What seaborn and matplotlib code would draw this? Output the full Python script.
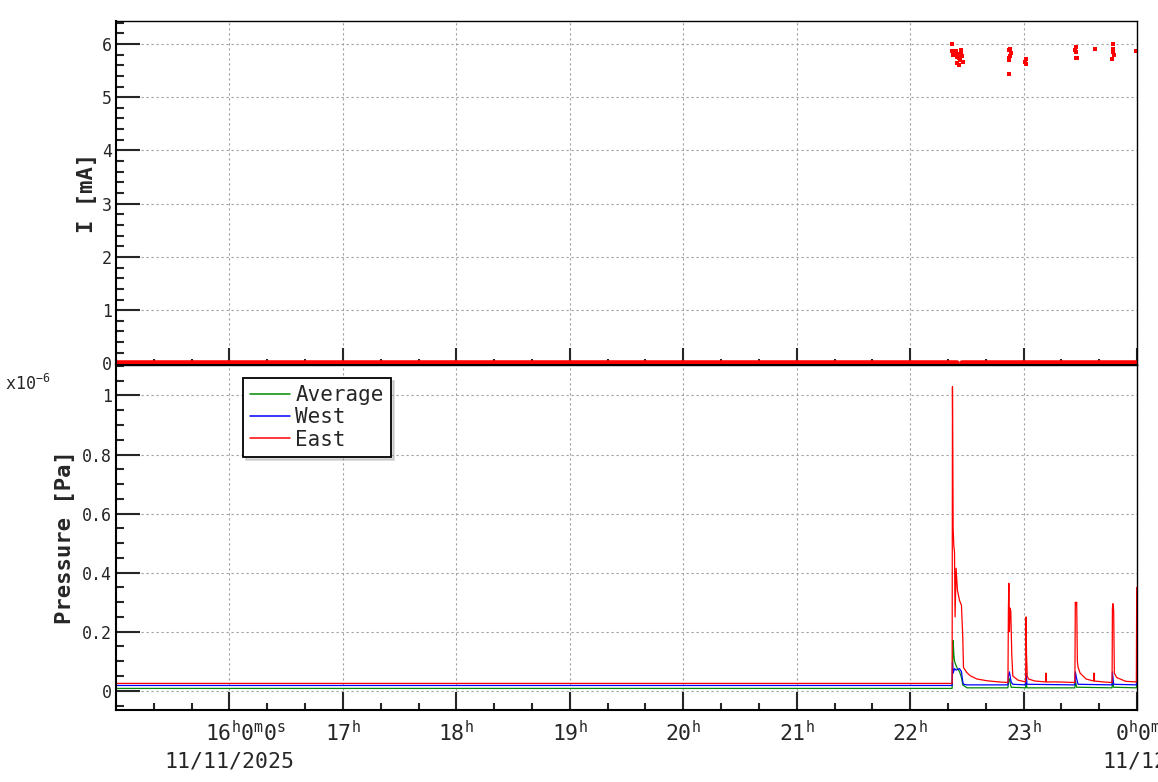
import matplotlib
matplotlib.use('Agg')
import pandas as pd
import matplotlib.pyplot as plt
import seaborn as sns
from matplotlib.ticker import MultipleLocator, FixedLocator, FuncFormatter
from matplotlib.transforms import blended_transform_factory

# time axis is in hours of 11/11/2025 (24 = midnight)
# pressure values are in units of 1e-6 Pa
east_t = [15.0, 22.370, 22.373, 22.376, 22.379, 22.385, 22.391, 22.396, 22.405, 22.417,
          22.435, 22.452, 22.464, 22.470, 22.499, 22.529, 22.588, 22.676, 22.780, 22.862,
          22.866, 22.870, 22.875, 22.880, 22.887, 22.896, 22.905, 22.950, 23.018, 23.022,
          23.026, 23.032, 23.043, 23.100, 23.195, 23.198, 23.201, 23.300, 23.452, 23.456,
          23.462, 23.468, 23.474, 23.480, 23.498, 23.550, 23.618, 23.621, 23.624, 23.700,
          23.780, 23.783, 23.788, 23.794, 23.800, 23.820, 23.900, 23.994, 23.997, 24.0]
east_p = [0.025, 0.025, 1.03, 0.81, 0.55, 0.49, 0.47, 0.25, 0.415, 0.34,
          0.306, 0.29, 0.18, 0.079, 0.062, 0.051, 0.040, 0.034, 0.030, 0.028,
          0.27, 0.364, 0.20, 0.28, 0.27, 0.12, 0.05, 0.036, 0.030, 0.25,
          0.12, 0.05, 0.040, 0.033, 0.030, 0.06, 0.030, 0.030, 0.028, 0.30,
          0.29, 0.30, 0.10, 0.08, 0.06, 0.04, 0.033, 0.06, 0.033, 0.030,
          0.028, 0.28, 0.295, 0.27, 0.06, 0.045, 0.032, 0.030, 0.35, 0.35]

west_t = [15.0, 22.370, 22.373, 22.379, 22.391, 22.405, 22.435, 22.452, 22.464, 22.470,
          22.5, 22.862, 22.866, 22.875, 22.890, 22.905, 23.018, 23.022, 23.030, 23.452,
          23.456, 23.468, 23.480, 23.780, 23.783, 23.794, 23.994, 24.0]
west_p = [0.018, 0.018, 0.096, 0.06, 0.075, 0.07, 0.075, 0.065, 0.03, 0.022,
          0.02, 0.02, 0.05, 0.064, 0.03, 0.022, 0.02, 0.06, 0.022, 0.02,
          0.064, 0.04, 0.022, 0.02, 0.064, 0.022, 0.02, 0.06]

avg_t = [15.0, 22.370, 22.373, 22.379, 22.385, 22.391, 22.405, 22.417, 22.435, 22.452,
         22.464, 22.5, 22.862, 22.866, 22.875, 22.890, 23.018, 23.022, 23.030, 23.452,
         23.456, 23.468, 23.780, 23.783, 23.794, 23.994, 24.0]
avg_p = [0.008, 0.008, 0.06, 0.17, 0.125, 0.10, 0.085, 0.075, 0.065, 0.045,
         0.02, 0.01, 0.01, 0.03, 0.04, 0.012, 0.01, 0.03, 0.01, 0.01,
         0.035, 0.012, 0.01, 0.035, 0.012, 0.01, 0.03]

# current readings [mA] that are not zero
current_t = [22.373, 22.373, 22.382, 22.391, 22.396, 22.405, 22.411, 22.417, 22.426, 22.435,
             22.435, 22.441, 22.447, 22.452, 22.461, 22.464,
             22.881, 22.875, 22.890, 22.881, 22.872, 22.875, 22.875,
             23.025, 23.016, 23.025,
             23.465, 23.457, 23.465, 23.471, 23.462,
             23.633,
             23.791, 23.791, 23.786, 23.794, 23.782,
             23.991]
current_i = [6.00, 5.87, 5.80, 5.83, 5.84, 5.86, 5.76, 5.64, 5.81, 5.73,
             5.61, 5.70, 5.83, 5.88, 5.78, 5.67,
             5.91, 5.88, 5.83, 5.78, 5.73, 5.69, 5.43,
             5.71, 5.66, 5.63,
             5.94, 5.89, 5.85, 5.74, 5.73,
             5.90,
             6.00, 5.90, 5.85, 5.80, 5.71,
             5.87]
# zero-current stretches (two runs, short gap at 22:25)
zero_t = [15.0, 22.41, 22.46, 24.0]
zero_i = [0.0, 0.0, 0.0, 0.0]
zero_run = [0, 0, 1, 1]

hours = [16, 17, 18, 19, 20, 21, 22, 23, 24]
hour_labels = ['', r'17$^{\mathrm{h}}$', r'18$^{\mathrm{h}}$', r'19$^{\mathrm{h}}$', r'20$^{\mathrm{h}}$',
               r'21$^{\mathrm{h}}$', r'22$^{\mathrm{h}}$', r'23$^{\mathrm{h}}$', '']

sns.set_style('ticks')
plt.rcParams['font.family'] = ['DejaVu Sans Mono']
plt.rcParams['mathtext.fontset'] = 'custom'
plt.rcParams['mathtext.rm'] = 'DejaVu Sans Mono'
plt.rcParams['mathtext.it'] = 'DejaVu Sans Mono'
plt.rcParams['mathtext.bf'] = 'DejaVu Sans Mono:bold'

fig = plt.figure(figsize=(11.58, 7.82), dpi=100)
ax1 = fig.add_axes([0.1002, 0.5332, 0.8817, 0.4399])
ax2 = fig.add_axes([0.1002, 0.0921, 0.8817, 0.4411])

GRID = dict(color='#a0a0a0', linestyle=(0, (2, 2.5)), linewidth=0.8)

# ---- current panel
zero_df = pd.DataFrame({'t': zero_t, 'i': zero_i, 'run': zero_run})
sns.lineplot(data=zero_df, x='t', y='i', units='run', estimator=None, color='red',
             lw=4, ax=ax1, legend=False)
sns.scatterplot(x=current_t, y=current_i, color='red', marker='s', s=8, linewidth=0,
                ax=ax1, legend=False)

ax1.set_xlim(15.0, 24.0)
ax1.set_ylim(-0.03, 6.43)
ax1.xaxis.set_major_locator(FixedLocator(hours))
ax1.xaxis.set_minor_locator(MultipleLocator(1 / 3))
ax1.yaxis.set_major_locator(MultipleLocator(1))
ax1.yaxis.set_minor_locator(MultipleLocator(0.2))
ax1.yaxis.set_major_formatter(FuncFormatter(lambda v, p: '%g' % v))
ax1.tick_params(axis='x', which='major', direction='in', length=12.5, width=1.5,
                labelbottom=False, top=False)
ax1.tick_params(axis='x', which='minor', direction='in', length=4.5, width=1.5, top=False)
ax1.tick_params(axis='y', which='major', direction='in', length=17, width=1.5,
                labelsize=12, pad=3, right=False)
ax1.tick_params(axis='y', which='minor', direction='in', length=5.5, width=1.5, right=False)
ax1.grid(True, which='major', **GRID)
ax1.set_xlabel('')
ax1.set_ylabel('I [mA]', fontsize=16, fontweight='bold')
ax1.yaxis.set_label_coords(-0.0186, 0.5)

# ---- pressure panel
p_df = pd.concat([
    pd.DataFrame({'t': avg_t, 'p': avg_p, 'sensor': 'Average'}),
    pd.DataFrame({'t': west_t, 'p': west_p, 'sensor': 'West'}),
    pd.DataFrame({'t': east_t, 'p': east_p, 'sensor': 'East'}),
])
sns.lineplot(data=p_df, x='t', y='p', hue='sensor', hue_order=['Average', 'West', 'East'],
             palette={'Average': '#008a00', 'West': '#0000ff', 'East': '#ff0000'},
             estimator=None, sort=False, lw=0.9, ax=ax2)

ax2.set_xlim(15.0, 24.0)
ax2.set_ylim(-0.065, 1.103)
ax2.xaxis.set_major_locator(FixedLocator(hours))
ax2.xaxis.set_major_formatter(FuncFormatter(lambda v, p: hour_labels[hours.index(int(round(v)))]))
ax2.xaxis.set_minor_locator(MultipleLocator(1 / 3))
ax2.yaxis.set_major_locator(MultipleLocator(0.2))
ax2.yaxis.set_minor_locator(MultipleLocator(0.05))
ax2.yaxis.set_major_formatter(FuncFormatter(lambda v, p: '%g' % round(v, 2)))
ax2.tick_params(axis='x', which='major', direction='in', length=13, width=1.5,
                labelsize=15.5, pad=7, top=False)
ax2.tick_params(axis='x', which='minor', direction='in', length=5, width=1.5, top=False)
ax2.tick_params(axis='y', which='major', direction='in', length=17, width=1.5,
                labelsize=12, pad=3, right=False)
ax2.tick_params(axis='y', which='minor', direction='in', length=5.5, width=1.5, right=False)
ax2.grid(True, which='major', **GRID)
ax2.set_xlabel('')
ax2.set_ylabel('Pressure [Pa]', fontsize=16, fontweight='bold')
ax2.yaxis.set_label_coords(-0.0402, 0.5)

for ax in (ax1, ax2):
    for side, sp in ax.spines.items():
        sp.set_visible(True)
        sp.set_color('black')
        sp.set_linewidth(1.5 if side in ('left', 'bottom') else 1.0)

# first and last hour labels carry the date, as in the original axis
trans = blended_transform_factory(ax2.transData, ax2.transAxes)
ax2.text(16 + 16 / 113.5, -0.0281, r'16$^{\mathrm{h}}$0$^{\mathrm{m}}$0$^{\mathrm{s}}$',
         transform=trans, ha='center', va='top', fontsize=15.5, clip_on=False)
ax2.text(16.0, -0.168, '11/11/2025', transform=trans, ha='center', va='baseline',
         fontsize=15.5, clip_on=False)
ax2.text(24 - 22 / 113.5, -0.0281, r'0$^{\mathrm{h}}$0$^{\mathrm{m}}$0$^{\mathrm{s}}$',
         transform=trans, ha='left', va='top', fontsize=15.5, clip_on=False)
ax2.text(24 - 35 / 113.5, -0.168, '11/12/2025', transform=trans, ha='left', va='baseline',
         fontsize=15.5, clip_on=False)

fig.text(0.0043, 0.5013, r'x10$^{\mathrm{-6}}$', ha='left', va='baseline', fontsize=12)

sns.move_legend(ax2, 'upper left', bbox_to_anchor=(0.1244, 0.9623), title='',
                frameon=True, fancybox=False, edgecolor='black', framealpha=1,
                fontsize=15, handlelength=1.9, handletextpad=0.25, borderpad=0.35,
                labelspacing=0.1, borderaxespad=0,
                shadow={'color': '0.6', 'alpha': 0.35})
leg = ax2.get_legend()
leg.get_frame().set_linewidth(1.3)
for h in leg.get_lines():
    h.set_linewidth(1.1)

fig.savefig('out.png', dpi=100)
